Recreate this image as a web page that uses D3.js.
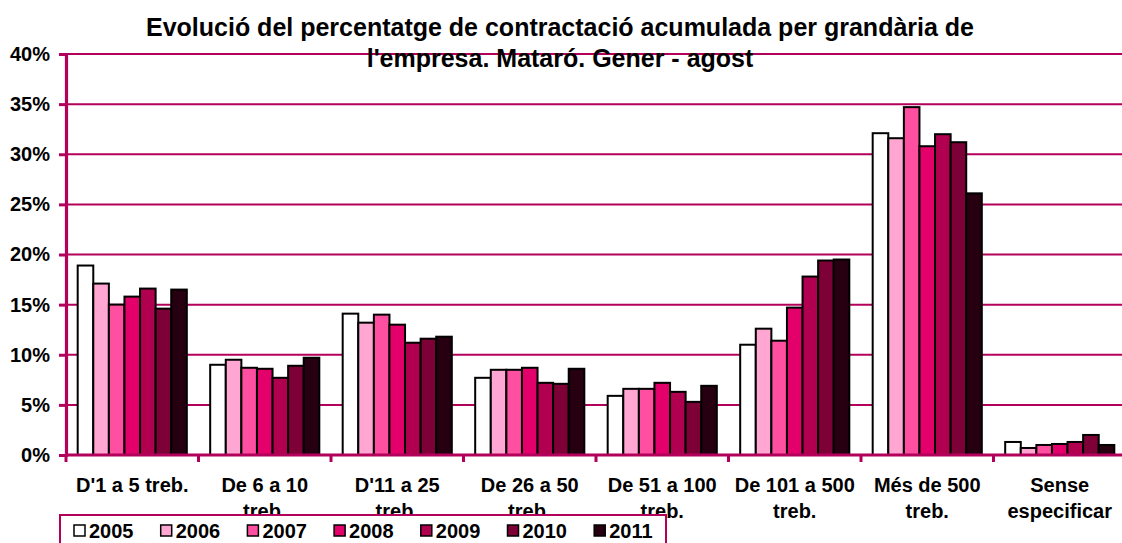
<!DOCTYPE html>
<html>
<head>
<meta charset="utf-8">
<script src="https://cdn.jsdelivr.net/npm/d3@7"></script>
<style>
  html, body { margin: 0; padding: 0; background: #fff; }
  svg { display: block; font-family: Arial, "Liberation Sans", sans-serif; }
</style>
</head>
<body>
<svg id="chart" width="1122" height="543"></svg>
<script>
// Company size groups (x categories); "\n" marks a line break in the label
const categories = [
  "D'1 a 5 treb.",
  "De 6 a 10\ntreb.",
  "D'11 a 25\ntreb.",
  "De 26 a 50\ntreb.",
  "De 51 a 100\ntreb.",
  "De 101 a 500\ntreb.",
  "Més de 500\ntreb.",
  "Sense\nespecificar"
];

const years = ["2005", "2006", "2007", "2008", "2009", "2010", "2011"];

// Share of accumulated hiring (%) per company size, one array per year
const v2005 = [18.9, 9.0, 14.1, 7.7, 5.9, 11.0, 32.1, 1.3];
const v2006 = [17.1, 9.5, 13.2, 8.5, 6.6, 12.6, 31.6, 0.7];
const v2007 = [15.0, 8.7, 14.0, 8.5, 6.6, 11.4, 34.7, 1.0];
const v2008 = [15.8, 8.6, 13.0, 8.7, 7.2, 14.7, 30.8, 1.1];
const v2009 = [16.6, 7.7, 11.2, 7.2, 6.3, 17.8, 32.0, 1.3];
const v2010 = [14.6, 8.9, 11.6, 7.1, 5.3, 19.4, 31.2, 2.0];
const v2011 = [16.5, 9.7, 11.8, 8.6, 6.9, 19.5, 26.1, 1.0];

const yTicks = [0, 5, 10, 15, 20, 25, 30, 35, 40];

const titleLines = [
  "Evolució del percentatge de contractació acumulada per grandària de",
  "l'empresa. Mataró. Gener - agost"
];

const seriesValues = [v2005, v2006, v2007, v2008, v2009, v2010, v2011];
const colors = ["#ffffff", "#ffa6d2", "#ff4fa0", "#e4006a", "#b0004f", "#7d0037", "#260010"];
const axisColor = "#b3005a";

const svg = d3.select("#chart");

const plot = { left: 66, right: 1126, top: 54, bottom: 455 };

const x0 = d3.scaleBand().domain(d3.range(categories.length))
  .range([plot.left, plot.right]).paddingInner(0).paddingOuter(0);
const bw = x0.bandwidth() / 8.5;           // 7 bars + 150% gap
const x1 = d3.scaleBand().domain(years)
  .range([bw * 0.75, x0.bandwidth() - bw * 0.75]).padding(0);
const y = d3.scaleLinear().domain([0, 40]).range([plot.bottom, plot.top]);

// Horizontal gridlines
svg.append("g")
  .selectAll("line").data(yTicks.slice(1)).join("line")
  .attr("x1", plot.left).attr("x2", plot.right)
  .attr("y1", d => y(d)).attr("y2", d => y(d))
  .attr("stroke", axisColor).attr("stroke-width", 2);

// Title
svg.append("g")
  .selectAll("text").data(titleLines).join("text")
  .attr("x", 560).attr("y", (d, i) => 36 + i * 31)
  .attr("text-anchor", "middle")
  .attr("font-size", 25).attr("font-weight", "bold").attr("fill", "#000")
  .text(d => d);

// Bars
const rows = years.map((yr, j) => categories.map((c, i) => ({ yr, i, v: seriesValues[j][i], color: colors[j] })));
svg.append("g")
  .selectAll("g").data(rows).join("g")
  .selectAll("rect").data(d => d).join("rect")
  .attr("x", d => x0(d.i) + x1(d.yr))
  .attr("y", d => y(d.v))
  .attr("width", x1.bandwidth())
  .attr("height", d => y(0) - y(d.v))
  .attr("fill", d => d.color)
  .attr("stroke", "#000").attr("stroke-width", 2);

// Y axis
const yAxis = d3.axisLeft(y).tickValues(yTicks).tickFormat(d => d + "%").tickSize(7).tickPadding(9);
const gy = svg.append("g").attr("transform", `translate(${plot.left},0)`).call(yAxis);
gy.select(".domain").attr("stroke", axisColor).attr("stroke-width", 3.2);
gy.selectAll(".tick line").attr("stroke", axisColor).attr("stroke-width", 3);
gy.selectAll(".tick text").attr("font-size", 20).attr("font-weight", "bold")
  .attr("font-family", "Arial, 'Liberation Sans', sans-serif").attr("fill", "#000");

// X axis: boundary ticks between categories
const bounds = d3.range(categories.length + 1).map(i => plot.left + i * x0.bandwidth());
const gx = svg.append("g");
gx.append("line").attr("x1", plot.left).attr("x2", plot.right)
  .attr("y1", y(0)).attr("y2", y(0))
  .attr("stroke", axisColor).attr("stroke-width", 3.2);
gx.selectAll("line.tk").data(bounds).join("line").attr("class", "tk")
  .attr("x1", d => d).attr("x2", d => d)
  .attr("y1", y(0)).attr("y2", y(0) + 7)
  .attr("stroke", axisColor).attr("stroke-width", 3);

// Category labels
const lab = svg.append("g").selectAll("text").data(categories).join("text")
  .attr("text-anchor", "middle")
  .attr("font-size", 20).attr("font-weight", "bold").attr("fill", "#000");
lab.each(function (d, i) {
  const cx = x0(i) + x0.bandwidth() / 2;
  d3.select(this).selectAll("tspan").data(d.split("\n")).join("tspan")
    .attr("x", cx).attr("y", (s, k) => 492 + k * 26).text(s => s);
});

// Legend
const lg = svg.append("g");
lg.append("rect").attr("x", 60).attr("y", 515).attr("width", 606).attr("height", 40)
  .attr("fill", "#fff").attr("stroke", axisColor).attr("stroke-width", 2);
const items = lg.selectAll("g.item").data(years).join("g").attr("class", "item")
  .attr("transform", (d, i) => `translate(${74 + i * 86.7},0)`);
items.append("rect").attr("x", 0).attr("y", 525).attr("width", 11).attr("height", 11)
  .attr("fill", (d, i) => colors[i]).attr("stroke", "#000").attr("stroke-width", 1.5);
items.append("text").attr("x", 15).attr("y", 538)
  .attr("font-size", 20).attr("font-weight", "bold").attr("fill", "#000")
  .text(d => d);
</script>
</body>
</html>
